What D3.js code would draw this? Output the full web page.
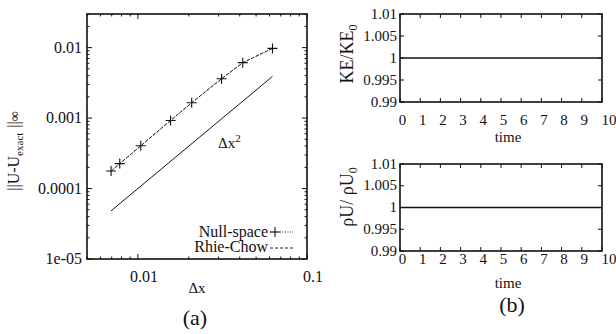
<!DOCTYPE html>
<html><head><meta charset="utf-8">
<script src="https://cdn.jsdelivr.net/npm/d3@7"></script>
<style>
body{margin:0;background:#fff}
svg text{font-family:"Liberation Serif","DejaVu Serif",serif;fill:#111}
</style></head>
<body>
<svg id="c" width="616" height="334" font-family="Liberation Serif, DejaVu Serif, serif"></svg>
<script>
// ---- data ----
const dx = [0.00694, 0.00781, 0.0104, 0.0156, 0.0208, 0.03125, 0.0417, 0.0625];
const nullSpaceErr = [0.000177, 0.000226, 0.000404, 0.000925, 0.00165, 0.00362, 0.00612, 0.00975];
const rhieChowErr = [0.000177, 0.000226, 0.000404, 0.000925, 0.00165, 0.00362, 0.00612, 0.00975];
const refDx = [0.00694, 0.0625];
const refErr = [0.0000482, 0.0039];
const xTickLabelsA = ["0.01", "0.1"];
const yTickLabelsA = ["1e-05", "0.0001", "0.001", "0.01"];
const time = [0, 10];
const keRatio = [1, 1];
const rhoURatio = [1, 1];
const timeTicks = [0,1,2,3,4,5,6,7,8,9,10];
const ratioTicks = ["0.99", "0.995", "1", "1.005", "1.01"];

const svg = d3.select("#c");
const INK = "#111";

// ---------- panel (a) ----------
const xa = d3.scaleLog().domain([0.005, 0.1]).range([87, 307]);
const ya = d3.scaleLog().domain([1e-5, 0.03]).range([259, 14]);
const ga = svg.append("g");

const xMajA = xTickLabelsA.map(Number);
const xMinA = [];
for (const d of [0.001, 0.01]) for (let k = 2; k <= 9; k++) { const v = +(d*k).toPrecision(3); if (v >= 0.005 && v <= 0.1) xMinA.push(v); }
const yMajA = yTickLabelsA.map(Number);
const yMinA = [];
for (const d of [1e-5, 1e-4, 1e-3, 1e-2]) for (let k = 2; k <= 9; k++) { const v = +(d*k).toPrecision(3); if (v <= 0.03) yMinA.push(v); }

function tickLines(g, list, fn) { list.forEach(v => { const [x1,y1,x2,y2] = fn(v); g.append("line").attr("x1",x1).attr("y1",y1).attr("x2",x2).attr("y2",y2).attr("stroke",INK).attr("stroke-width",1); }); }
tickLines(ga, xMajA, v => [xa(v), 259, xa(v), 254]);
tickLines(ga, xMajA, v => [xa(v), 14, xa(v), 19]);
tickLines(ga, xMinA, v => [xa(v), 259, xa(v), 256.5]);
tickLines(ga, xMinA, v => [xa(v), 14, xa(v), 16.5]);
tickLines(ga, yMajA, v => [87, ya(v), 92, ya(v)]);
tickLines(ga, yMajA, v => [307, ya(v), 302, ya(v)]);
tickLines(ga, yMinA, v => [87, ya(v), 89.5, ya(v)]);
tickLines(ga, yMinA, v => [307, ya(v), 304.5, ya(v)]);

ga.append("rect").attr("x",87).attr("y",14).attr("width",220).attr("height",245)
  .attr("fill","none").attr("stroke",INK).attr("stroke-width",1.6);

xTickLabelsA.forEach(t => ga.append("text").attr("x", xa(+t)+6).attr("y", 282)
  .attr("text-anchor","middle").attr("font-size",16).text(t));
yTickLabelsA.forEach(t => ga.append("text").attr("x", 82).attr("y", ya(+t)+5)
  .attr("text-anchor","end").attr("font-size",16).text(t));

const lineA = d3.line().x(d => xa(d[0])).y(d => ya(d[1]));
ga.append("path").attr("d", lineA(refDx.map((v,i)=>[v, refErr[i]])))
  .attr("fill","none").attr("stroke",INK).attr("stroke-width",1);
const dxl = ga.append("text").attr("x",218).attr("y",147.5).attr("font-size",15);
dxl.append("tspan").text("Δx");
dxl.append("tspan").attr("dy",-6).attr("font-size",11).text("2");

ga.append("path").attr("d", lineA(dx.map((v,i)=>[v, rhieChowErr[i]])))
  .attr("fill","none").attr("stroke","#222").attr("stroke-width",1).attr("stroke-dasharray","3,2");
ga.append("path").attr("d", lineA(dx.map((v,i)=>[v, nullSpaceErr[i]])))
  .attr("fill","none").attr("stroke","#222").attr("stroke-width",1).attr("stroke-dasharray","1,1.5");
dx.forEach((v,i) => {
  const cx = xa(v), cy = ya(nullSpaceErr[i]);
  ga.append("path").attr("d", `M${cx-5},${cy}H${cx+5}M${cx},${cy-5}V${cy+5}`)
    .attr("stroke",INK).attr("stroke-width",1.1);
});

ga.append("text").attr("x",268).attr("y",236.5).attr("text-anchor","end").attr("font-size",16).text("Null-space");
ga.append("line").attr("x1",270).attr("x2",293).attr("y1",232).attr("y2",232)
  .attr("stroke","#222").attr("stroke-dasharray","1,1.5");
ga.append("path").attr("d","M270,232H280M275,227V237").attr("stroke",INK).attr("stroke-width",1.1);
ga.append("text").attr("x",268).attr("y",252).attr("text-anchor","end").attr("font-size",16).text("Rhie-Chow");
ga.append("line").attr("x1",270).attr("x2",293).attr("y1",248).attr("y2",248)
  .attr("stroke","#222").attr("stroke-dasharray","3,2");

ga.append("text").attr("x",197).attr("y",293).attr("text-anchor","middle").attr("font-size",15).text("Δx");
const yl = ga.append("text").attr("transform","translate(19,151) rotate(-90)").attr("text-anchor","middle").attr("font-size",16);
yl.append("tspan").text("||U-U");
yl.append("tspan").attr("dy",4).attr("font-size",11).text("exact");
yl.append("tspan").attr("dy",-4).attr("dx",5).text("||");
yl.append("tspan").attr("font-size",14).text("∞");
ga.append("text").attr("x",195).attr("y",325).attr("text-anchor","middle").attr("font-size",22).text("(a)");

// ---------- panel (b) ----------
const xb = d3.scaleLinear().domain([0, 10]).range([400, 602]);
function ratioPanel(top, bottom, values, title, titleY, titleSub, tickBase, timeBase) {
  const y = d3.scaleLinear().domain([0.99, 1.01]).range([bottom, top]);
  const g = svg.append("g");
  tickLines(g, timeTicks, v => [xb(v), bottom, xb(v), bottom-4]);
  tickLines(g, timeTicks, v => [xb(v), top, xb(v), top+4]);
  tickLines(g, ratioTicks.map(Number), v => [400, y(v), 404, y(v)]);
  tickLines(g, ratioTicks.map(Number), v => [602, y(v), 598, y(v)]);
  g.append("rect").attr("x",400).attr("y",top).attr("width",202).attr("height",bottom-top)
    .attr("fill","none").attr("stroke",INK).attr("stroke-width",1.6);
  g.append("path").attr("d", d3.line().x((d,i)=>xb(time[i])).y(d=>y(d))(values))
    .attr("fill","none").attr("stroke",INK).attr("stroke-width",1.3);
  timeTicks.forEach(t => g.append("text").attr("x", xb(t) + (t===10?7:2.5)).attr("y", tickBase)
    .attr("text-anchor","middle").attr("font-size",15).text(t));
  ratioTicks.forEach(t => g.append("text").attr("x",397).attr("y", y(+t)+4.5)
    .attr("text-anchor","end").attr("font-size",15).text(t));
  g.append("text").attr("x",508).attr("y",timeBase).attr("text-anchor","middle").attr("font-size",15).text("time");
  const tl = g.append("text").attr("transform",`translate(353,${titleY}) rotate(-90)`).attr("text-anchor","middle").attr("font-size",18);
  tl.append("tspan").text(title);
  tl.append("tspan").attr("dy",4).attr("font-size",12).text(titleSub);
}
ratioPanel(14, 102, keRatio, "KE/KE", 54, "0", 125, 142);
ratioPanel(164, 251, rhoURatio, "ρU/ ρU", 197, "0", 264, 288);
svg.append("text").attr("x",512).attr("y",312).attr("text-anchor","middle").attr("font-size",22).text("(b)");
</script>
</body></html>
